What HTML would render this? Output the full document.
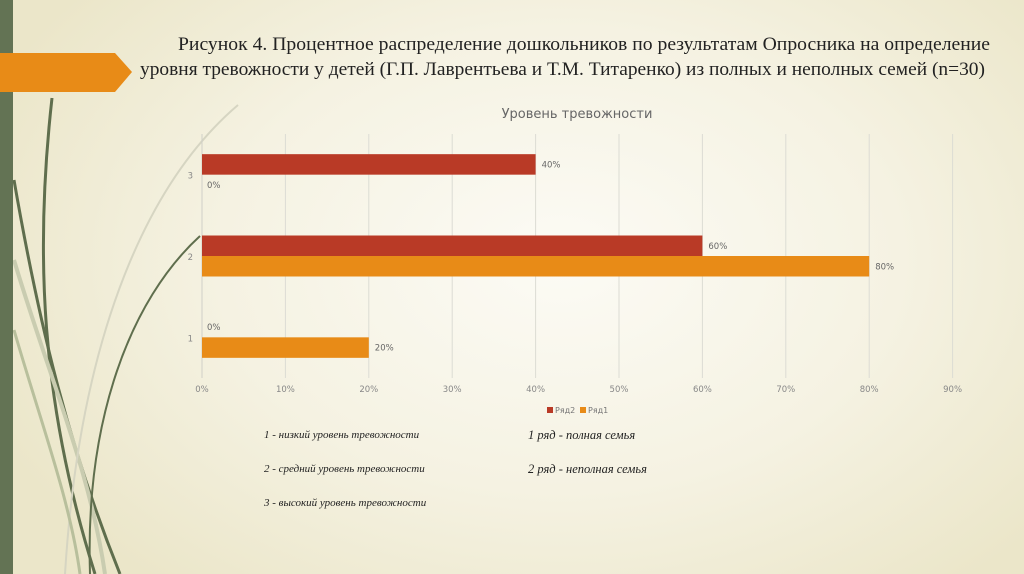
<!DOCTYPE html>
<html><head><meta charset="utf-8">
<style>
html,body{margin:0;padding:0;}
body{width:1024px;height:574px;overflow:hidden;position:relative;
background:radial-gradient(ellipse 620px 420px at 560px 260px,#fcfbf5 0%,#f5f2e2 55%,#ebe6c9 100%);}
svg{position:absolute;left:0;top:0;}
</style></head>
<body>
<svg width="1024" height="574" viewBox="0 0 1024 574">
  <g fill="none">
    <path d="M52 98 C35 250 40 400 95 574" stroke="#5f6e4d" stroke-width="3"/>
    <path d="M14 180 C40 330 70 450 120 574" stroke="#5f6e4d" stroke-width="3"/>
    <path d="M14 260 C50 380 90 470 105 574" stroke="#c9ccb0" stroke-width="4"/>
    <path d="M200 236 C130 300 85 420 90 574" stroke="#5f6e4d" stroke-width="2"/>
    <path d="M238 105 C150 180 80 330 65 574" stroke="#d6d5c2" stroke-width="2"/>
    <path d="M14 330 C40 420 70 500 80 574" stroke="#b8bf9c" stroke-width="3"/>
  </g>
  <rect x="0" y="0" width="13" height="574" fill="#637354"/>
  <polygon points="0,53 115,53 132,72 115,92 0,92" fill="#e88b17"/>

  <g font-family="Liberation Serif, serif" font-size="19" fill="#222">
    <text x="178" y="50" textLength="812" lengthAdjust="spacingAndGlyphs">Рисунок 4. Процентное распределение дошкольников по результатам Опросника на определение</text>
    <text x="140" y="75" textLength="845" lengthAdjust="spacingAndGlyphs">уровня тревожности у детей (Г.П. Лаврентьева и Т.М. Титаренко) из полных и неполных семей (n=30)</text>
  </g>
  <text x="577" y="118" text-anchor="middle" font-family="DejaVu Sans, sans-serif" font-size="13" fill="#666">Уровень тревожности</text>

  <g id="chart"></g>

  <g font-family="DejaVu Sans, sans-serif" font-size="8" fill="#777">
    <rect x="547" y="407" width="6" height="6" fill="#b93a26"/>
    <text x="555" y="413">Ряд2</text>
    <rect x="580" y="407" width="6" height="6" fill="#e88b17"/>
    <text x="588" y="413">Ряд1</text>
  </g>

  <g font-family="Liberation Serif, serif" font-style="italic" font-size="11" fill="#222">
    <text x="264" y="438">1 - низкий уровень тревожности</text>
    <text x="264" y="472">2 - средний уровень тревожности</text>
    <text x="264" y="506">3 - высокий уровень тревожности</text>
    <text x="528" y="439" font-size="12.5">1 ряд - полная семья</text>
    <text x="528" y="473" font-size="12.5">2 ряд - неполная семья</text>
  </g>
</svg>
<script>
const categories = ["1","2","3"];
const ryad2 = [0, 60, 40];
const ryad1 = [20, 80, 0];
const xTicks = [0,10,20,30,40,50,60,70,80,90];

(function(){
const NS = "http://www.w3.org/2000/svg";
const g = document.getElementById("chart");
const x0 = 202, pxPer = 83.4, plotTop = 134, plotBottom = 378;
const band = (plotBottom - plotTop) / categories.length;
const xs = v => x0 + v * pxPer / 10;
const yc = i => plotBottom - band * (i + 0.5);
function mk(tag, attrs){const e=document.createElementNS(NS,tag);for(const k in attrs)e.setAttribute(k,attrs[k]);g.appendChild(e);return e;}

xTicks.forEach(t => {
  const l = mk("line",{x1:xs(t),x2:xs(t),y1:plotTop,y2:plotBottom,stroke:"#dcdcd4","stroke-width":1});
  
  
  const tx = mk("text",{x:xs(t),y:392,"text-anchor":"middle","font-family":"DejaVu Sans, sans-serif","font-size":"8.5",fill:"#888"});
  tx.textContent = t + "%";
  
  
});
const ax = mk("line",{x1:x0,x2:x0,y1:plotTop,y2:plotBottom,stroke:"#d0d0c8","stroke-width":1});



const bh = 20.5;
categories.forEach((c, i) => {
  const cy = yc(i);
  const lab = mk("text",{x:193,y:cy+4,"text-anchor":"end","font-family":"DejaVu Sans, sans-serif","font-size":"8.5",fill:"#888"});
  lab.textContent = c;
  
  
  [[ryad2[i], "#b93a26", cy - bh, "bar-ryad2"], [ryad1[i], "#e88b17", cy, "bar-ryad1"]].forEach(([v, col, y, nm]) => {
    if (v > 0) {
      const r = mk("rect",{x:x0,y:y,width:xs(v)-x0,height:bh,fill:col});
      
      
    }
    const t = mk("text",{x:xs(v)+(v>0?6:5),y:y+bh/2+3,"font-family":"DejaVu Sans, sans-serif","font-size":"8.5",fill:"#666"});
    t.textContent = v + "%";
    
    
  });
});
})();
</script>
</body></html>
